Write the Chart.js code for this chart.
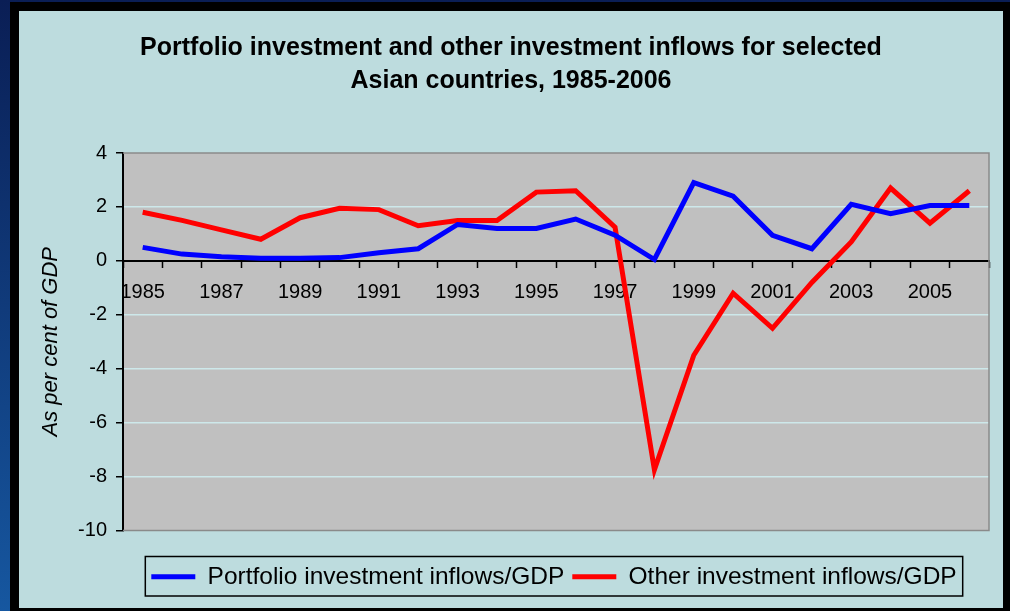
<!DOCTYPE html>
<html>
<head>
<meta charset="utf-8">
<script src="https://cdn.jsdelivr.net/npm/chart.js@4/dist/chart.umd.min.js"></script>
<style>
  html, body { margin: 0; padding: 0; overflow: hidden; background: #0b2260; }
  #chart { display: block; }
</style>
</head>
<body>
<canvas id="chart" width="1010" height="611"></canvas>
<script>
// ===============================
// Data
// ===============================
const years = ["1985", "1986", "1987", "1988", "1989", "1990", "1991", "1992",
  "1993", "1994", "1995", "1996", "1997", "1998", "1999", "2000", "2001",
  "2002", "2003", "2004", "2005", "2006"];

const portfolioInflows = [0.5, 0.25, 0.15, 0.1, 0.1, 0.12, 0.3, 0.45, 1.35, 1.2,
  1.2, 1.55, 0.95, 0.05, 2.9, 2.4, 0.95, 0.45, 2.1, 1.75, 2.05, 2.05];

const otherInflows = [1.8, 1.5, 1.15, 0.8, 1.6, 1.95, 1.9, 1.3, 1.5, 1.5,
  2.55, 2.6, 1.25, -7.75, -3.5, -1.2, -2.5, -0.8, 0.7, 2.7, 1.4, 2.6];

const seriesNames = ["Portfolio investment inflows/GDP", "Other investment inflows/GDP"];
const titleLines = ["Portfolio investment and other investment inflows for selected",
  "Asian countries, 1985-2006"];
const yAxisTitle = "As per cent of GDP";
const yMin = -10;
const yMax = 4;
const yStep = 2;

// -------------------------------
// Look & feel
// -------------------------------
const FONT = "'Liberation Sans', Arial, sans-serif";
const PANEL_COLOR = "#bddcde";
const PLOT_COLOR = "#c0c0c0";
const GRID_COLOR = "#cde8ea";
const LEGEND_SHIFT = 43; // legend sits right of centre in the picture

// Paints the slide background, the black frame, the teal panel and the gray plot
const backgroundPlugin = {
  id: "panelBackground",
  afterLayout(chart) {
    // nudge the legend to the right, hit boxes are rebuilt after this
    if (chart.legend) {
      chart.legend.left += LEGEND_SHIFT;
      chart.legend.right += LEGEND_SHIFT;
    }
  },
  beforeDraw(chart) {
    const { ctx, width, height, chartArea } = chart;
    ctx.save();
    const grad = ctx.createLinearGradient(0, 0, 0, height);
    grad.addColorStop(0, "#0a1e55");
    grad.addColorStop(1, "#1657a0");
    ctx.fillStyle = grad;
    ctx.fillRect(0, 0, width, height);
    ctx.fillStyle = "#000";
    ctx.fillRect(10, 2, width - 10, height - 2);
    ctx.fillStyle = PANEL_COLOR;
    ctx.fillRect(19, 11, 984, 597);
    ctx.fillStyle = PLOT_COLOR;
    ctx.fillRect(chartArea.left, chartArea.top,
      chartArea.right - chartArea.left, chartArea.bottom - chartArea.top);
    ctx.restore();
  },
  beforeDatasetsDraw(chart) {
    const { ctx, chartArea } = chart;
    ctx.save();
    ctx.strokeStyle = "#8a8a8a";
    ctx.lineWidth = 1.5;
    ctx.beginPath();
    ctx.moveTo(chartArea.left, chartArea.top);
    ctx.lineTo(chartArea.right, chartArea.top);
    ctx.lineTo(chartArea.right, chartArea.bottom);
    ctx.lineTo(chartArea.left, chartArea.bottom);
    ctx.stroke();
    ctx.restore();
  }
};

// Black frame round the legend entries
const legendBoxPlugin = {
  id: "legendBox",
  afterDraw(chart) {
    const boxes = chart.legend && chart.legend.legendHitBoxes;
    if (!boxes || !boxes.length) return;
    const first = boxes[0];
    const last = boxes[boxes.length - 1];
    const { ctx } = chart;
    ctx.save();
    ctx.strokeStyle = "#000";
    ctx.lineWidth = 1.5;
    ctx.strokeRect(first.left - 6, first.top - 8,
      last.left + last.width - first.left + 12, first.height + 15);
    ctx.restore();
  }
};

new Chart(document.getElementById("chart"), {
  type: "line",
  data: {
    labels: years,
    datasets: [
      {
        label: seriesNames[0],
        data: portfolioInflows,
        borderColor: "#0000ff",
        backgroundColor: "#0000ff",
        borderWidth: 5,
        pointRadius: 0,
        tension: 0
      },
      {
        label: seriesNames[1],
        data: otherInflows,
        borderColor: "#ff0000",
        backgroundColor: "#ff0000",
        borderWidth: 5,
        pointRadius: 0,
        tension: 0
      }
    ]
  },
  options: {
    responsive: false,
    devicePixelRatio: 1,
    animation: false,
    layout: { padding: { left: 33, right: 21, top: 11, bottom: 12 } },
    plugins: {
      title: {
        display: true,
        text: titleLines,
        color: "#000",
        font: { family: FONT, size: 25, weight: "bold", lineHeight: 1.32 },
        padding: { top: 21, bottom: 55 }
      },
      legend: {
        position: "bottom",
        labels: {
          color: "#000",
          font: { family: FONT, size: 24.5 },
          boxWidth: 44,
          boxHeight: 5,
          padding: 8,
          generateLabels: chart =>
            Chart.defaults.plugins.legend.labels.generateLabels(chart)
              .map(item => ({ ...item, lineWidth: 0 }))
        }
      },
      tooltip: { enabled: false }
    },
    scales: {
      x: {
        type: "category",
        position: { y: 0 },
        offset: true,
        grid: {
          offset: true,
          drawOnChartArea: false,
          tickLength: 6,
          tickColor: "#000",
          tickWidth: 1.5
        },
        border: { color: "#000", width: 2 },
        ticks: {
          autoSkip: false,
          maxRotation: 0,
          color: "#000",
          font: { family: FONT, size: 20 },
          padding: 14,
          callback: function (value, index) {
            return index % 2 === 0 ? this.getLabelForValue(value) : "";
          }
        }
      },
      // spacer below the plot so the legend sits where it does in the picture
      xSpacer: {
        type: "category",
        position: "bottom",
        display: true,
        grid: { display: false },
        border: { display: false },
        ticks: { display: false },
        afterFit: scale => { scale.height = 26; }
      },
      y: {
        min: yMin,
        max: yMax,
        ticks: {
          stepSize: yStep,
          color: "#000",
          font: { family: FONT, size: 20 },
          padding: 9
        },
        grid: {
          color: ctx => {
            const v = ctx.tick && ctx.tick.value;
            return v === 0 || v === yMin || v === yMax ? "rgba(0,0,0,0)" : GRID_COLOR;
          },
          lineWidth: 1.5,
          tickLength: 7,
          tickColor: "#000",
          tickWidth: 1.5
        },
        border: { color: "#000", width: 2 },
        title: {
          display: true,
          text: yAxisTitle,
          color: "#000",
          font: { family: FONT, size: 22, style: "italic" },
          padding: { top: 5, bottom: 0 }
        },
        afterFit: scale => { scale.width = 90; }
      }
    }
  },
  plugins: [backgroundPlugin, legendBoxPlugin]
});
</script>
</body>
</html>
